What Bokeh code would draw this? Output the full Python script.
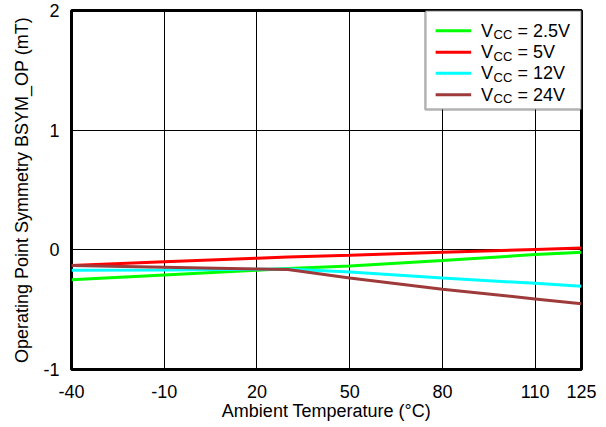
from bokeh.plotting import figure
from bokeh.models import FixedTicker, Range1d, BoxAnnotation
from bokeh.core.properties import value
from bokeh.embed import file_html
from bokeh.resources import INLINE

# Data
temp = [-40, -10, 20, 30, 50, 80, 110, 125]
v25 = [-0.25, -0.21, -0.17, -0.155, -0.135, -0.09, -0.04, -0.02]
v5 = [-0.13, -0.10, -0.07, -0.06, -0.045, -0.02, 0.003, 0.015]
v12 = [-0.17, -0.168, -0.163, -0.16, -0.185, -0.235, -0.28, -0.305]
v24 = [-0.13, -0.145, -0.16, -0.165, -0.235, -0.33, -0.41, -0.45]

series_values = [v25, v5, v12, v24]
series_labels = ["2.5V", "5V", "12V", "24V"]
colors = ["#00ff00", "#ff0000", "#00ffff", "#9e3a3a"]

x_ticks = [-40, -10, 20, 50, 80, 110, 125]
y_ticks = [-1, 0, 1, 2]

FONT = "Liberation Sans"

p = figure(width=606, height=427, output_backend="svg", toolbar_location=None,
           x_range=Range1d(-40, 125), y_range=Range1d(-1, 2),
           min_border_left=71, min_border_right=25, min_border_top=10,
           min_border_bottom=58)

p.outline_line_color = "black"
p.outline_line_width = 3
p.background_fill_color = "white"
p.border_fill_color = "white"

for ax in (p.xaxis, p.yaxis):
    ax.axis_line_color = None
    ax.major_tick_line_color = None
    ax.minor_tick_line_color = None
    ax.major_label_text_font = FONT
    ax.major_label_text_font_size = "18px"
    ax.major_label_text_color = "black"
    ax.axis_label_text_font = FONT
    ax.axis_label_text_font_size = "18px"
    ax.axis_label_text_font_style = "normal"
    ax.axis_label_text_color = "black"

p.xaxis.ticker = FixedTicker(ticks=x_ticks)
p.yaxis.ticker = FixedTicker(ticks=y_ticks)
p.xaxis.major_label_overrides = {t: str(t) for t in x_ticks}
p.yaxis.major_label_overrides = {t: str(t) for t in y_ticks}
p.xaxis.axis_label = "Ambient Temperature (°C)"
p.yaxis.axis_label = "Operating Point Symmetry BSYM_OP (mT)"
p.xaxis.major_label_standoff = 9
p.yaxis.major_label_standoff = 6
p.xaxis.axis_label_standoff = 0
p.yaxis.axis_label_standoff = 8

p.xgrid.grid_line_color = "black"
p.ygrid.grid_line_color = "black"
p.xgrid.grid_line_width = 1
p.ygrid.grid_line_width = 1

for vals, c in zip(series_values, colors):
    p.line(temp, vals, line_color=c, line_width=3)

# Legend (drawn manually to allow the subscript)
box = BoxAnnotation(left=74.5, right=125, top=2, bottom=1.172,
                    fill_color="white", fill_alpha=1.0,
                    line_color="black", line_width=2.5, level="underlay")
p.add_layout(box)

rows_y = [1.830, 1.651, 1.476, 1.295]
sw_x0 = [77.8] * 4
sw_x1 = [89.3] * 4
p.segment(x0=sw_x0, y0=rows_y, x1=sw_x1, y1=rows_y, line_color=colors, line_width=3)

tx = [92.5] * 4
p.text(x=tx, y=rows_y, text=["V"] * 4, text_font=value(FONT), text_font_size="18px",
       text_baseline="middle", text_align="left", text_color="black")
p.text(x=tx, y=rows_y, text=["CC"] * 4, text_font=value(FONT), text_font_size="13px",
       text_baseline="middle", text_align="left", text_color="black",
       x_offset=12.5, y_offset=4)
p.text(x=tx, y=rows_y, text=["= " + s for s in series_labels], text_font=value(FONT),
       text_font_size="18px", text_baseline="middle", text_align="left",
       text_color="black", x_offset=36.5)

open("out.html", "w").write(file_html(p, INLINE))
